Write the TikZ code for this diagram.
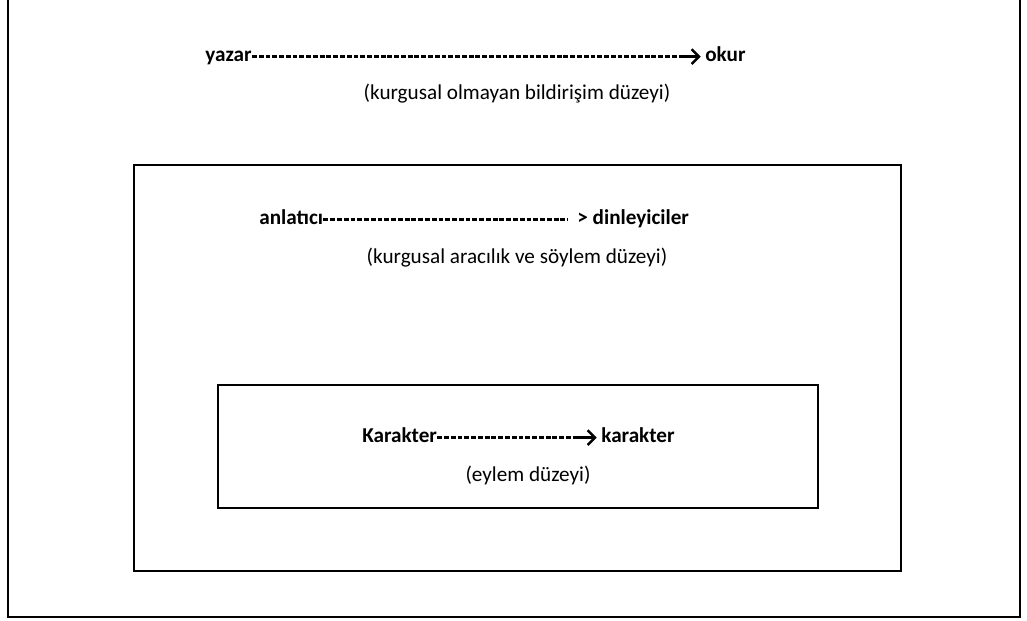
\documentclass[tikz,border=0pt]{standalone}
\usepackage{fontspec}
\setmainfont{Carlito}
\usetikzlibrary{arrows.meta}

\begin{document}
\begin{tikzpicture}[x=0.576pt, y=-0.576pt,
  every node/.style={font=\fontsize{12.2pt}{14pt}\selectfont, inner sep=0pt},
  lbl/.style={font=\fontsize{12.2pt}{14pt}\selectfont\bfseries, anchor=base west},
  note/.style={anchor=base},
  box/.style={draw, line width=1.1pt},
  dashln/.style={line width=1.3pt, dash pattern=on 2.8pt off 1.1pt},
  tip/.style={line width=1.4pt, -{Straight Barb[length=4.2pt, width=8.4pt, line width=1.4pt]}},
]
\useasboundingbox (0,0) rectangle (1027,621);

% the three levels
\draw[box] (8,-5) -- (8,617) -- (1020,617) -- (1020,-5);
\draw[box] (134,165) rectangle (901,571);
\draw[box] (218,385) rectangle (818,508);

% yazar -> okur
\node[lbl] (yazar) at (205,62) {yazar};
\node[lbl] (okur)  at (705,62) {okur};
\node[note] (bildirisim) at (517,100) {(kurgusal olmayan bildirişim düzeyi)};
\coordinate (okur-arr) at ([xshift=-13pt, yshift=3.1pt]okur.base west);
\draw[dashln] ([yshift=3.1pt]yazar.base east) -- (okur-arr);
\draw[tip] (okur-arr) -- ([xshift=-2.5pt, yshift=3.1pt]okur.base west);

% anlatici -> dinleyiciler
\node[lbl] (anlatici)  at (259,225) {anlatıcı};
\node[lbl] (dinleyici) at (577,225) {> dinleyiciler};
\node[note] (soylem) at (517,264) {(kurgusal aracılık ve söylem düzeyi)};
\draw[dashln] ([yshift=3.1pt]anlatici.base east) -- ([xshift=-5.5pt, yshift=3.1pt]dinleyici.base west);

% karakter -> karakter
\node[lbl] (kar1) at (362,443) {Karakter};
\node[lbl] (kar2) at (601,443) {karakter};
\node[note] (eylem) at (528,482) {(eylem düzeyi)};
\coordinate (kar-arr) at ([xshift=-13pt, yshift=3.1pt]kar2.base west);
\draw[dashln] ([yshift=3.1pt]kar1.base east) -- (kar-arr);
\draw[tip] (kar-arr) -- ([xshift=-2.5pt, yshift=3.1pt]kar2.base west);
\end{tikzpicture}
\end{document}
